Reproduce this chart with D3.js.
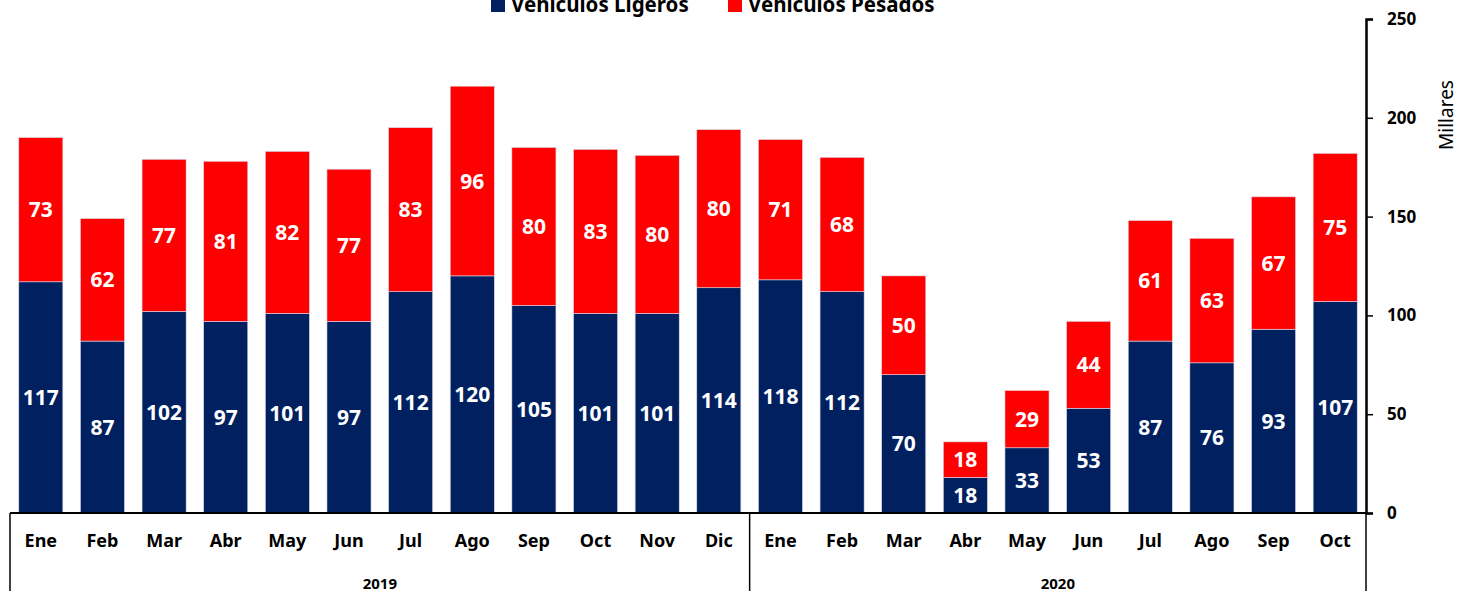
<!DOCTYPE html>
<html>
<head>
<meta charset="utf-8">
<script src="https://cdn.jsdelivr.net/npm/d3@7"></script>
<style>
  body { margin: 0; background: #fff; }
  svg { display: block; font-family: "Noto Sans", "Open Sans", sans-serif; }
</style>
</head>
<body>
<div id="chart"></div>
<script>
// months and years for the x axis
const months = ['Ene','Feb','Mar','Abr','May','Jun','Jul','Ago','Sep','Oct','Nov','Dic',
                'Ene','Feb','Mar','Abr','May','Jun','Jul','Ago','Sep','Oct'];
const years = ['2019','2020'];
const yearOf = [0,0,0,0,0,0,0,0,0,0,0,0,1,1,1,1,1,1,1,1,1,1];

// series values (thousands)
const ligeros = [117,87,102,97,101,97,112,120,105,101,101,114,118,112,70,18,33,53,87,76,93,107];
const pesados = [73,62,77,81,82,77,83,96,80,83,80,80,71,68,50,18,29,44,61,63,67,75];
const seriesNames = ['Vehículos Ligeros','Vehículos Pesados'];
const yTicks = [0,50,100,150,200,250];

const width = 1458, height = 591;
const colors = ['#002060','#ff0000'];

const svg = d3.select('#chart').append('svg')
    .attr('width', width)
    .attr('height', height);

//build rows keyed by index so repeated month names stay separate
const rows = months.map((m,i)=>({key: i, month: m, ligeros: ligeros[i], pesados: pesados[i]}));
const stack = d3.stack().keys(['ligeros','pesados'])(rows);

const xScale = d3.scaleBand()
    .domain(rows.map(d=>d.key))
    .range([10, 1366])
    .paddingInner(0.285)
    .paddingOuter(0.1425);

const yScale = d3.scaleLinear()
    .domain([0, 250])
    .range([513, 19]);

//bars
const layers = svg.selectAll('g.layer')
    .data(stack)
    .enter()
    .append('g')
    .attr('class','layer')
    .attr('fill', (d,i)=>colors[i]);

layers.selectAll('rect')
    .data(d=>d)
    .enter()
    .append('rect')
      .attr('x', d=>xScale(d.data.key))
      .attr('y', d=>yScale(d[1]))
      .attr('width', xScale.bandwidth())
      .attr('height', d=>yScale(d[0]) - yScale(d[1]))
      .attr('stroke', '#d9d9e6')
      .attr('stroke-width', 0.6);

//value labels in the middle of each segment
layers.selectAll('text')
    .data(d=>d)
    .enter()
    .append('text')
      .attr('x', d=>xScale(d.data.key) + xScale.bandwidth()/2)
      .attr('y', d=>(yScale(d[0]) + yScale(d[1]))/2)
      .attr('dy','0.36em')
      .attr('text-anchor','middle')
      .attr('fill','#fff')
      .attr('font-size', 21)
      .attr('font-weight','bold')
      .text(d=>d[1]-d[0]);

//right y axis
const yAxis = svg.append('g')
    .attr('transform','translate(1366,0)')
    .call(d3.axisRight(yScale).tickValues(yTicks).tickSize(7).tickPadding(14));
yAxis.select('.domain').attr('stroke','#000').attr('stroke-width',2.5);
yAxis.selectAll('.tick line').attr('stroke','#000').attr('stroke-width',1.5);
yAxis.selectAll('.tick text')
    .attr('font-family','"Noto Sans", sans-serif')
    .attr('font-size',17)
    .attr('font-weight','bold')
    .attr('fill','#000');

svg.append('text')
    .attr('transform','translate(1453,115) rotate(-90)')
    .attr('text-anchor','middle')
    .attr('font-size',19)
    .attr('fill','#000')
    .text('Millares');

//x axis: baseline, month labels, year groups
svg.append('line')
    .attr('x1',10).attr('x2',1366)
    .attr('y1',yScale(0)).attr('y2',yScale(0))
    .attr('stroke','#000').attr('stroke-width',2);

svg.selectAll('text.month')
    .data(rows)
    .enter()
    .append('text')
      .attr('class','month')
      .attr('x', d=>xScale(d.key) + xScale.bandwidth()/2)
      .attr('y', 547)
      .attr('text-anchor','middle')
      .attr('font-size',18)
      .attr('font-weight','bold')
      .attr('fill','#000')
      .text(d=>d.month);

//separators between year groups
const step = xScale.step();
const sepX = [10, xScale(12) - (step - xScale.bandwidth())/2, 1366];
svg.selectAll('line.sep')
    .data(sepX)
    .enter()
    .append('line')
      .attr('class','sep')
      .attr('x1',d=>d).attr('x2',d=>d)
      .attr('y1',yScale(0)).attr('y2',height)
      .attr('stroke','#000').attr('stroke-width',1.5);

years.forEach((y,i)=>{
    const idx = rows.filter((r,j)=>yearOf[j]===i).map(r=>r.key);
    const x0 = xScale(idx[0]), x1 = xScale(idx[idx.length-1]) + xScale.bandwidth();
    svg.append('text')
        .attr('x',(x0+x1)/2)
        .attr('y',589)
        .attr('text-anchor','middle')
        .attr('font-size',15)
        .attr('font-weight','bold')
        .attr('fill','#000')
        .text(y);
});

//legend (cut off at the top like the original)
const legend = svg.append('g');
const legendX = [491, 728];
seriesNames.forEach((name,i)=>{
    legend.append('rect')
        .attr('x',legendX[i]).attr('y',0)
        .attr('width',14).attr('height',12)
        .attr('fill',colors[i]);
    legend.append('text')
        .attr('x',legendX[i]+20)
        .attr('y',12)
        .attr('font-size',20.5)
        .attr('font-weight','bold')
        .attr('fill','#000')
        .text(name);
});
</script>
</body>
</html>
